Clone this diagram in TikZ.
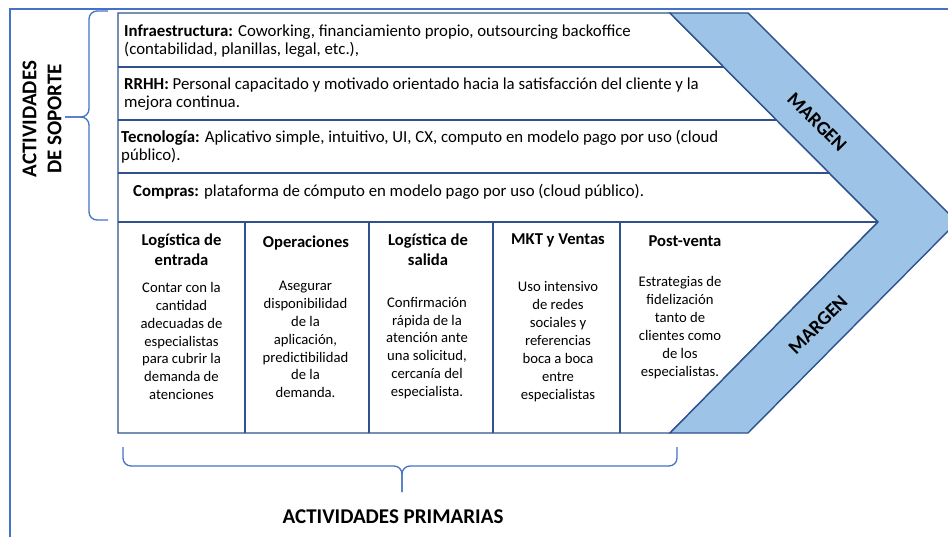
\documentclass[tikz,border=0pt]{standalone}
\usepackage{fontspec}
\setmainfont{Carlito}
\definecolor{navy}{HTML}{2F528F}
\definecolor{bandblue}{HTML}{9DC3E6}
\definecolor{braceblue}{HTML}{4472C4}
\begin{document}
\begin{tikzpicture}[x=1pt,y=-1pt,
  rowtxt/.style={anchor=west,align=left,inner sep=0pt,font=\fontsize{16.8}{18.2}\selectfont},
  coltitle/.style={align=center,inner sep=0pt,font=\bfseries\fontsize{16.6}{20}\selectfont},
  coltxt/.style={align=center,inner sep=0pt,font=\fontsize{14.67}{17.9}\selectfont},
  margen/.style={inner sep=0pt,font=\bfseries\fontsize{19.5}{22}\selectfont},
  bigtxt/.style={align=center,inner sep=0pt,font=\bfseries\fontsize{21}{25}\selectfont},
  vline/.style={draw=navy,line width=1.4pt},
  bracket/.style={draw=braceblue,line width=1.3pt,rounded corners=8pt}]
\clip (0,0) rectangle (948,537);
\fill[white] (0,0) rectangle (948,537);
\draw[braceblue,line width=1.8pt] (948,9) -- (10,9) -- (10,537);
\draw[vline] (118,13) -- (670,13) -- (878,222) -- (670,433) -- (118,433) -- cycle;
\draw[vline,fill=bandblue] (670,13) -- (748,13) -- (957,222) -- (748,433) -- (670,433) -- (878,222) -- cycle;
\draw[vline] (118,67) -- (724,67);
\draw[vline] (118,120) -- (777,120);
\draw[vline] (118,173) -- (830,173);
\draw[vline] (118,222) -- (878,222);
\draw[vline] (245,222) -- (245,433);
\draw[vline] (369,222) -- (369,433);
\draw[vline] (493,222) -- (493,433);
\draw[vline] (620,222) -- (620,433);
\node[rowtxt] (infra) at (124,41) {\textbf{Infraestructura:} Coworking, financiamiento propio, outsourcing backoffice\\(contabilidad, planillas, legal, etc.),};
\node[rowtxt] (rrhh) at (124,94.5) {\textbf{RRHH:} Personal capacitado y motivado orientado hacia la satisfacción del cliente y la\\mejora continua.};
\node[rowtxt] (tecno) at (121,147) {\textbf{Tecnología:} Aplicativo simple, intuitivo, UI, CX, computo en modelo pago por uso (cloud\\público).};
\node[rowtxt] (compras) at (133,192) {\textbf{Compras:} plataforma de cómputo en modelo pago por uso (cloud público).};
\node[coltitle] (loge) at (181.5,250) {Logística de\\entrada};
\node[coltitle] (ops) at (306,243) {Operaciones};
\node[coltitle] (logs) at (428,250) {Logística de\\salida};
\node[coltitle] (mkt) at (558,240) {MKT y Ventas};
\node[coltitle] (post) at (685,241) {Post-venta};
\node[coltxt] (logetxt) at (181.5,341) {Contar con la\\cantidad\\adecuadas de\\especialistas\\para cubrir la\\demanda de\\atenciones};
\node[coltxt] (opstxt) at (305.5,339.5) {Asegurar\\disponibilidad\\de la\\aplicación,\\predictibilidad\\de la\\demanda.};
\node[coltxt] (logstxt) at (427,348) {Confirmación\\rápida de la\\atención ante\\una solicitud,\\cercanía del\\especialista.};
\node[coltxt] (mkttxt) at (558,341.5) {Uso intensivo\\de redes\\sociales y\\referencias\\boca a boca\\entre\\especialistas};
\node[coltxt] (posttxt) at (680,327.5) {Estrategias de\\fidelización\\tanto de\\clientes como\\de los\\especialistas.};
\node[margen,rotate=-45] (margenup) at (817,122) {MARGEN};
\node[margen,rotate=45] (margendown) at (818,325) {MARGEN};
\draw[bracket] (108,11) -- (89,11) -- (89,117) -- (65,117);
\draw[bracket] (65,117) -- (89,117) -- (89,220) -- (108,220);
\draw[bracket] (123,447) -- (123,466) -- (402,466) -- (402,492);
\draw[bracket] (402,492) -- (402,466) -- (677,466) -- (677,447);
\node[bigtxt,rotate=90] (soporte) at (42,119) {ACTIVIDADES\\DE SOPORTE};
\node[bigtxt] (primarias) at (393,517) {ACTIVIDADES PRIMARIAS};
\end{tikzpicture}
\end{document}
